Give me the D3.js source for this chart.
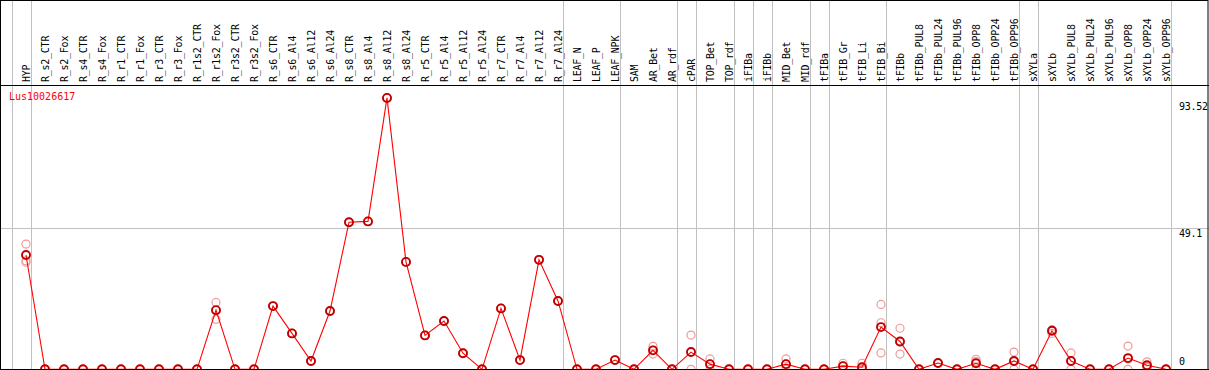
<!DOCTYPE html>
<html>
<head>
<meta charset="utf-8">
<script src="https://cdn.jsdelivr.net/npm/d3@7"></script>
<style>
  html, body { margin: 0; padding: 0; background: #fff; }
  svg { display: block; }
  text { font-family: "DejaVu Sans Mono", "Liberation Mono", monospace; }
</style>
</head>
<body>
<div id="chart"></div>
<script>
// Samples (columns), left to right
const categories = [
  "HYP", "R_s2_CTR", "R_s2_Fox", "R_s4_CTR", "R_s4_Fox", "R_r1_CTR", "R_r1_Fox", "R_r3_CTR", "R_r3_Fox",
  "R_r1s2_CTR", "R_r1s2_Fox", "R_r3s2_CTR", "R_r3s2_Fox", "R_s6_CTR", "R_s6_Al4", "R_s6_Al12", "R_s6_Al24",
  "R_s8_CTR", "R_s8_Al4", "R_s8_Al12", "R_s8_Al24", "R_r5_CTR", "R_r5_Al4", "R_r5_Al12", "R_r5_Al24",
  "R_r7_CTR", "R_r7_Al4", "R_r7_Al12", "R_r7_Al24", "LEAF_N", "LEAF_P", "LEAF_NPK", "SAM", "AR_Bet", "AR_rdf",
  "cPAR", "TOP_Bet", "TOP_rdf", "iFIBa", "iFIBb", "MID_Bet", "MID_rdf", "tFIBa", "tFIB_Gr", "tFIB_Li", "tFIB_Bi",
  "tFIBb", "tFIBb_PUL8", "tFIBb_PUL24", "tFIBb_PUL96", "tFIBb_OPP8", "tFIBb_OPP24", "tFIBb_OPP96",
  "sXYLa", "sXYLb", "sXYLb_PUL8", "sXYLb_PUL24", "sXYLb_PUL96", "sXYLb_OPP8", "sXYLb_OPP24", "sXYLb_OPP96"
];

// number of columns in each tissue group (separator drawn after each)
const groupSizes = [1, 28, 3, 3, 1, 2, 1, 1, 2, 1, 3, 7, 1, 7];

// mean expression per column
const means = [
  39.8, 0, 0, 0, 0, 0, 0, 0, 0,
  0, 20.6, 0, 0, 22.0, 12.5, 2.9, 20.3,
  51.2, 51.5, 94.5, 37.4, 11.8, 16.8, 5.6, 0,
  21.2, 3.2, 38.1, 23.8, 0, 0, 3.2, 0, 6.6, 0,
  6.0, 1.8, 0, 0, 0, 1.8, 0, 0, 1.1, 0.7, 14.7,
  9.7, 0, 2.2, 0, 2.1, 0, 2.9,
  0, 13.4, 2.9, 0, 0, 3.9, 1.4, 0
];

// replicate values per column
const replicates = [
  [43.6, 37.8, 37.3], [0, 0, 0], [0, 0, 0], [0, 0, 0], [0, 0, 0], [0, 0, 0], [0, 0, 0], [0, 0, 0], [0, 0, 0],
  [0, 0, 0], [23.3, 20.6, 17.4], [0, 0, 0], [0, 0, 0], [22.0, 22.0, 22.0], [12.5, 12.5, 12.5], [2.9, 2.9, 2.9], [20.3, 20.3, 20.3],
  [51.2, 51.2, 51.2], [51.5, 51.5, 51.5], [94.5, 94.5, 94.5], [37.4, 37.4, 37.4], [11.8, 11.8, 11.8], [16.8, 16.8, 16.8], [5.6, 5.6, 5.6], [0, 0, 0],
  [21.2, 21.2, 21.2], [3.2, 3.2, 3.2], [38.1, 38.1, 38.1], [23.8, 23.8, 23.8], [0, 0, 0], [0, 0, 0], [3.2, 3.2, 3.2], [0, 0, 0], [8.0, 6.6, 5.3], [0, 0, 0],
  [11.9, 6.0, 0], [3.6, 1.8, 0], [0, 0, 0], [0, 0, 0], [0, 0, 0], [3.6, 1.8, 0], [0, 0, 0], [0, 0, 0], [2.1, 1.1, 0], [2.1, 0, 0], [22.6, 16.2, 5.7],
  [14.3, 9.5, 5.3], [0, 0, 0], [2.2, 2.2, 2.2], [0, 0, 0], [3.5, 2.8, 0], [0, 0, 0], [6.0, 2.7, 0],
  [0, 0, 0], [13.8, 13.4, 12.5], [5.7, 2.9, 0], [0, 0, 0], [0, 0, 0], [8.1, 3.6, 0], [2.6, 0.9, 0.7], [0, 0, 0]
];

const geneName = "Lus10026617";
const yTicks = [93.52, 49.1, 0];
const yTickLabels = ["93.52", "49.1", "0"];

const width = 1209, height = 370;
const headerBottom = 85.5;
const plotBottom = 369.5;

const svg = d3.select("#chart").append("svg")
  .attr("width", width).attr("height", height);

const x = d3.scalePoint().domain(categories).range([26, 1166]);
const step = x.step();
const y = d3.scaleLinear().domain([0, 93.52]).range([369.3, 100.7]);

// group separators
let cum = [-1];
groupSizes.forEach(n => cum.push(cum[cum.length - 1] + n));
svg.append("g").selectAll("line").data(cum).enter().append("line")
  .attr("x1", d => Math.round(26 + d * step + 4.5) + 0.5)
  .attr("x2", d => Math.round(26 + d * step + 4.5) + 0.5)
  .attr("y1", 0).attr("y2", plotBottom)
  .attr("stroke", "#c0c0c0").attr("stroke-width", 1);

// horizontal mid grid line
svg.append("line")
  .attr("x1", 0).attr("x2", width)
  .attr("y1", Math.round(y(49.1)) + 0.5).attr("y2", Math.round(y(49.1)) + 0.5)
  .attr("stroke", "#c0c0c0").attr("stroke-width", 1);

// column labels (vertical)
svg.append("g").selectAll("text").data(categories).enter().append("text")
  .attr("transform", d => `translate(${x(d) + 3.5},82) rotate(-90)`)
  .attr("font-size", "10px")
  .attr("letter-spacing", "-0.25px")
  .attr("fill", "#000")
  .text(d => d);

// gene label
svg.append("text")
  .attr("x", 9).attr("y", 100)
  .attr("font-size", "10px")
  .attr("fill", "#ff0000")
  .text(geneName);

// right-side value labels
svg.append("g").selectAll("text").data(yTicks).enter().append("text")
  .attr("x", 1179)
  .attr("y", (d, i) => d === 0 ? 365 : y(d) + 9)
  .attr("font-size", "10px")
  .attr("letter-spacing", "-0.25px")
  .attr("fill", "#000")
  .text((d, i) => yTickLabels[i]);

const plot = svg.append("g");

// replicate points
const repPts = [];
replicates.forEach((arr, i) => arr.forEach(v => repPts.push({ c: categories[i], v: v })));
plot.append("g").selectAll("circle").data(repPts).enter().append("circle")
  .attr("cx", d => x(d.c)).attr("cy", d => y(d.v)).attr("r", 4)
  .attr("fill", "none").attr("stroke", "#f09a9a").attr("stroke-width", 1.2);

// mean line
const line = d3.line().x((d, i) => x(categories[i])).y(d => y(d));
plot.append("path").datum(means)
  .attr("d", line)
  .attr("fill", "none").attr("stroke", "#ff0000").attr("stroke-width", 1.1);

// mean points
plot.append("g").selectAll("circle").data(means).enter().append("circle")
  .attr("cx", (d, i) => x(categories[i])).attr("cy", d => y(d)).attr("r", 4)
  .attr("fill", "none").attr("stroke", "#c00000").attr("stroke-width", 1.9);

// frame
svg.append("rect").attr("x", 0.5).attr("y", 0.5).attr("width", width - 1.5).attr("height", plotBottom - 0.5)
  .attr("fill", "none").attr("stroke", "#000").attr("stroke-width", 1);
svg.append("line").attr("x1", 0).attr("x2", width).attr("y1", headerBottom).attr("y2", headerBottom)
  .attr("stroke", "#000").attr("stroke-width", 1.2);
svg.append("line").attr("x1", 0).attr("x2", width).attr("y1", plotBottom).attr("y2", plotBottom)
  .attr("stroke", "#000").attr("stroke-width", 1.2);
</script>
</body>
</html>
